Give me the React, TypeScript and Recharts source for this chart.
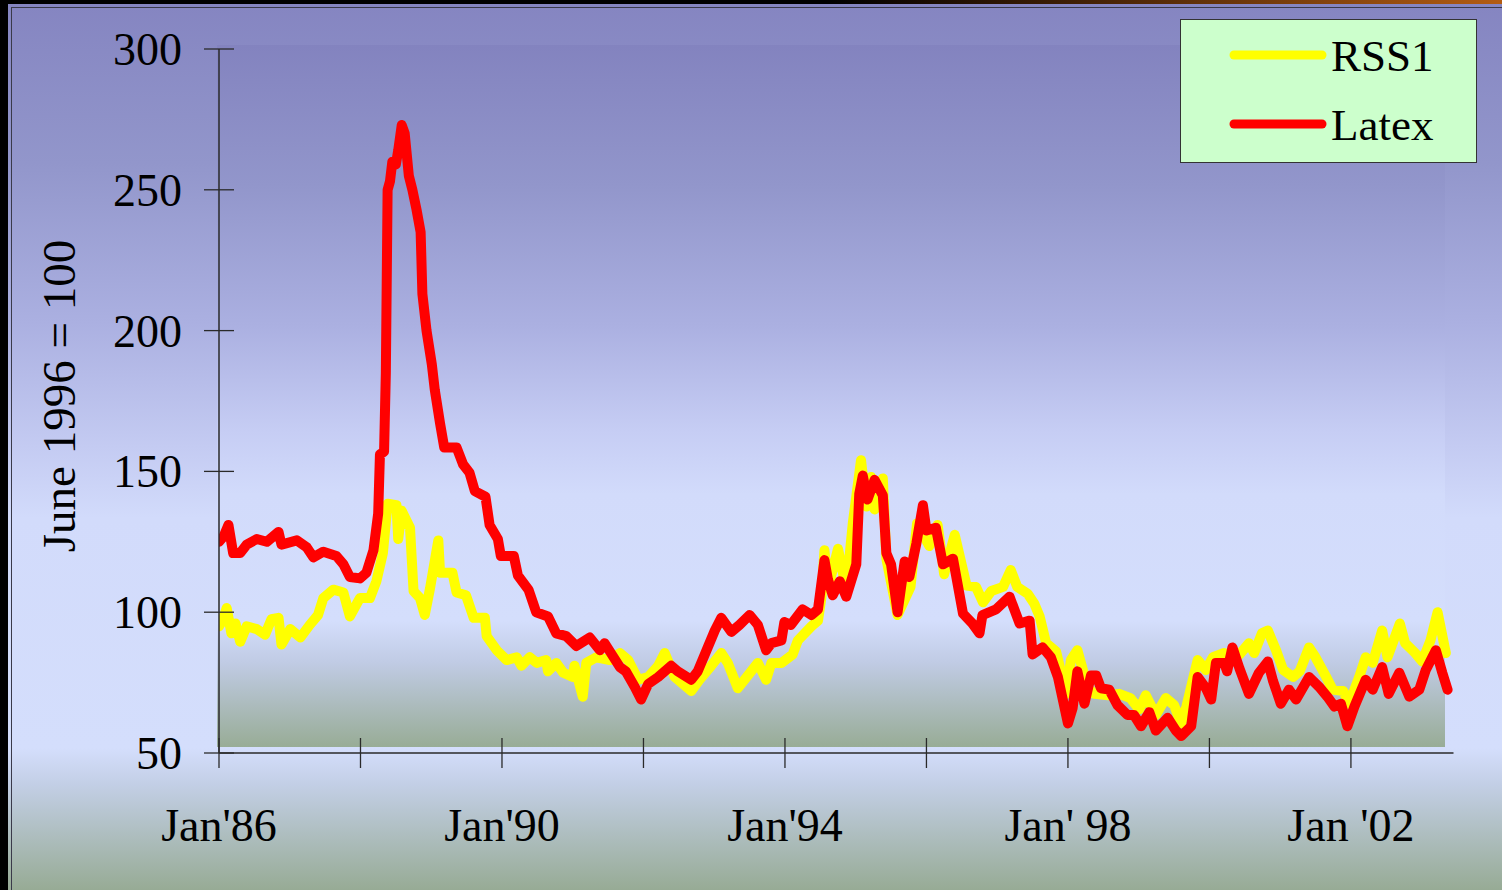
import React from 'react';
import { LineChart, Line, XAxis, YAxis, Legend } from 'recharts';

// months since Jan 1986, index value (June 1996 = 100)
const RSS1: [number, number][] = [
  [0, 95], [0.6, 97], [1.3, 101.5], [2.1, 92.5], [2.8, 96], [3.6, 89.5], [4.7, 95], [6.4, 94], [7.8, 92],
  [8.9, 97.5], [10.1, 98], [10.6, 88.5], [12.1, 94], [13.8, 91], [15.4, 95.5], [16.8, 99], [17.7, 105],
  [19.4, 108], [21.1, 107], [22.2, 98.5], [23.9, 105], [25.6, 105], [26.7, 111], [27.8, 121], [28.6, 138.5],
  [30.1, 138], [30.4, 126], [31.0, 136], [32.4, 130], [33.0, 107.5], [34.1, 105], [34.9, 99], [35.8, 108.5],
  [37.2, 125.5], [37.5, 114], [39.6, 114], [40.3, 107], [41.9, 106], [43.2, 98], [45.1, 98], [45.4, 91.5],
  [47.1, 86.5], [48.8, 83], [50.5, 84], [51.3, 81], [52.7, 84], [53.9, 82], [55.5, 83], [55.8, 79], [57.2, 82],
  [58.4, 78.5], [60.0, 77], [60.3, 81], [61.7, 70], [62.3, 82], [64.0, 84], [66.3, 83], [68.0, 85.5],
  [69.4, 83], [71.1, 76], [72.8, 77], [74.5, 81], [75.6, 85.5], [77.3, 77], [80.1, 72], [81.5, 76], [83.5, 81],
  [85.2, 85.5], [86.3, 82], [88.0, 73], [89.7, 77.5], [91.4, 82], [92.8, 76], [93.7, 82], [95.4, 82],
  [97.3, 85], [98.2, 90], [100.5, 95], [101.6, 97], [102.2, 105.5], [102.7, 122], [103.3, 108.5],
  [105.0, 122.5], [106.4, 108], [107.5, 131.5], [108.9, 154], [109.8, 137.5], [110.6, 148], [111.2, 136.5],
  [112.6, 147.5], [113.2, 119], [115.1, 99], [117.3, 109], [118.4, 131.5], [120.5, 123.5], [121.9, 131],
  [123.0, 113.5], [124.8, 127.5], [126.8, 109.5], [128.4, 109], [129.6, 103.5], [131.0, 107.5], [133.0, 109],
  [134.3, 115], [135.4, 109], [137.2, 106.5], [138.3, 103], [139.2, 98.5], [140.3, 89], [142.0, 86],
  [143.7, 71], [144.5, 83], [145.6, 86.5], [147.4, 73], [148.5, 71], [150.8, 70.5], [152.7, 71], [154.6, 69.5],
  [156.1, 65.5], [157.2, 70.5], [158.9, 63.5], [160.6, 69.5], [162.0, 67], [163.2, 60.5], [164.1, 66.5],
  [165.3, 77], [166.0, 83], [167.4, 79.5], [168.6, 84], [170.5, 85.5], [172.2, 84], [173.1, 85], [174.7, 89],
  [175.6, 85.5], [176.9, 92.5], [177.9, 93.5], [179.3, 86.5], [180.5, 79.5], [182.2, 77], [183.3, 79],
  [184.9, 87.5], [186.0, 84], [187.8, 77], [188.9, 72.5], [190.7, 72], [191.7, 67.5], [193.4, 77], [194.5, 84],
  [195.7, 82], [197.3, 93.5], [198.2, 84], [200.3, 96], [201.2, 89], [202.9, 85.5], [204.1, 82.5],
  [205.5, 90], [206.7, 100], [208.1, 85.5],
];

const LATEX: [number, number][] = [
  [0, 125], [0.8, 127], [1.6, 131], [2.4, 121], [3.6, 121], [4.7, 124], [6.4, 126], [8.1, 125], [10.1, 128.5],
  [10.6, 124], [13.2, 125.5], [14.9, 123], [16.0, 119.5], [17.7, 121.5], [19.9, 120], [21.1, 117], [22.2, 112.5],
  [23.9, 112], [25.0, 114], [26.2, 122], [27.0, 135], [27.3, 156], [28.0, 157], [28.3, 185], [28.6, 250],
  [29.0, 253], [29.4, 260], [30.0, 259], [30.4, 264], [31.0, 273], [31.5, 270], [32.2, 255], [32.8, 250],
  [33.5, 243], [34.2, 235], [34.5, 213], [35.2, 200], [36.1, 188], [36.6, 179], [37.5, 167], [38.2, 158.5],
  [40.3, 158.5], [41.4, 152.5], [42.5, 149.5], [43.4, 143], [45.2, 141], [45.9, 131], [47.3, 126], [47.8, 120],
  [50.0, 120], [50.7, 113], [52.5, 108], [53.8, 100], [55.8, 98.5], [57.2, 92.5], [58.9, 91.5], [60.6, 88],
  [62.9, 91], [64.6, 86.5], [65.4, 89], [68.0, 80.5], [69.0, 79], [70.5, 73.5], [71.6, 69], [72.8, 74.5],
  [74.5, 77], [76.7, 81], [77.8, 79], [80.1, 76], [81.2, 79], [82.7, 86.5], [84.1, 93.5], [85.2, 98],
  [86.9, 93], [88.3, 95.5], [90.0, 99], [91.4, 95.5], [92.8, 86.5], [93.7, 89], [95.4, 90], [95.9, 96.5],
  [97.0, 95.5], [99.0, 101], [100.5, 99], [101.6, 101], [102.7, 118.5], [103.3, 111.5], [104.1, 106],
  [105.3, 111], [106.4, 105.5], [108.1, 117], [108.6, 142], [109.2, 148.5], [110.0, 140], [111.2, 147],
  [112.6, 141.5], [113.2, 121], [114.0, 117], [115.1, 100], [116.3, 118], [117.1, 112.5], [118.3, 124.5],
  [119.4, 138], [120.0, 129], [121.6, 130], [122.8, 117], [124.5, 119], [126.2, 99.5], [127.8, 96],
  [129.0, 92.5], [129.5, 99], [131.8, 101], [134.1, 105.5], [135.8, 96], [137.5, 97], [138.0, 85],
  [139.7, 87.5], [141.1, 84], [142.3, 77], [144.0, 60.5], [144.8, 66], [145.6, 79], [146.8, 67.5],
  [147.9, 77.5], [148.8, 77.5], [149.6, 73], [151.0, 72.5], [152.4, 67], [154.1, 63.5], [155.2, 63.5],
  [156.4, 59.5], [157.8, 64.5], [158.9, 58], [160.9, 62.5], [162.3, 58], [163.2, 56], [164.9, 59.5],
  [166.0, 77], [167.4, 73], [168.3, 69], [169.1, 82], [170.5, 82], [171.0, 79], [171.9, 87.5], [173.1, 80],
  [174.7, 71], [176.4, 78.5], [177.9, 82.5], [178.8, 75.5], [180.1, 67.5], [181.5, 72.5], [182.7, 69],
  [184.9, 77], [186.6, 73.5], [188.0, 70], [189.2, 66.5], [190.3, 67.5], [191.4, 59.5], [192.6, 66.5],
  [194.5, 76], [195.7, 72.5], [197.3, 80.5], [198.4, 71], [200.2, 78.5], [201.9, 70], [203.6, 72.5],
  [204.7, 79.5], [206.4, 86.5], [207.5, 78.5], [208.4, 72.5],
];

const X_TICKS = [0, 24, 48, 72, 96, 120, 144, 168, 192];
const X_LABELS: Record<number, string> = {
  0: "Jan'86", 48: "Jan'90", 96: "Jan'94", 144: "Jan' 98", 192: "Jan '02",
};
const Y_TICKS = [50, 100, 150, 200, 250, 300];
const LEGEND_ORDER = ['RSS1', 'Latex'];

const FONT = '"Liberation Serif", "Times New Roman", serif';
const AXIS = '#2a2a2a';
const TICK_SIZE = 15;

const rssData = RSS1.map(([m, v]) => ({ m, v }));
const latexData = LATEX.map(([m, v]) => ({ m, v }));

// ticks in the original cross the axis, so draw them by hand
const XTick = (props: any) => {
  const { x, y, payload } = props;
  const axisY = y - TICK_SIZE - 10;
  const label = X_LABELS[payload.value] ?? '';
  return (
    <g>
      <line x1={x} x2={x} y1={axisY - TICK_SIZE} y2={axisY + TICK_SIZE} stroke={AXIS} strokeWidth={1.3} />
      {label && (
        <text x={x} y={axisY + 88} textAnchor="middle" fontSize={46} fontFamily={FONT} fill="#000">
          {label}
        </text>
      )}
    </g>
  );
};

const YTick = (props: any) => {
  const { x, y, payload } = props;
  const axisX = x + TICK_SIZE + 22;
  return (
    <g>
      <line x1={axisX - TICK_SIZE} x2={axisX + TICK_SIZE} y1={y} y2={y} stroke={AXIS} strokeWidth={1.3} />
      <text x={x} y={y + 16} textAnchor="end" fontSize={46} fontFamily={FONT} fill="#000">
        {payload.value}
      </text>
    </g>
  );
};

const yLabel = () => (
  <text transform="translate(75, 396) rotate(-90)" textAnchor="middle" fontSize={47} fontFamily={FONT} fill="#000">
    June 1996 = 100
  </text>
);

const LegendBox = (props: any) => {
  const items = [...(props.payload || [])].sort(
    (a: any, b: any) => LEGEND_ORDER.indexOf(a.value) - LEGEND_ORDER.indexOf(b.value)
  );
  return (
    <div style={{ width: 297, height: 144, boxSizing: 'border-box', background: '#ccffcc', border: '1.5px solid #333' }}>
      <svg width={294} height={141} style={{ display: 'block' }}>
        {items.map((it: any, i: number) => (
          <g key={it.value}>
            <line x1={53} x2={141} y1={35 + i * 69} y2={35 + i * 69} stroke={it.color} strokeWidth={9} strokeLinecap="round" />
            <text x={150} y={51 + i * 69} fontSize={45} fontFamily={FONT} fill="#000">{it.value}</text>
          </g>
        ))}
      </svg>
    </div>
  );
};

export default function App() {
  return (
    <div style={{ position: 'absolute', left: 0, top: 0, width: 1502, height: 890, background: '#000', overflow: 'hidden' }}>
      <div style={{
        position: 'absolute', left: 0, top: 0, width: 1502, height: 4,
        background: 'linear-gradient(to right, #000 0%, #000 55%, #3a1c04 70%, #b35c12 100%)',
      }} />
      <div style={{
        position: 'absolute', left: 8, top: 4, right: 0, bottom: 0,
        background: 'linear-gradient(to bottom, #8585c1 0%, #9296cb 18%, #abb0e1 36%, #c4cbf2 50%, #d2dbfb 58%, #d4defc 84%, #c3cfe6 88%, #97ab95 100%)',
      }} />
      <div style={{ position: 'absolute', left: 11, top: 7, right: 0, bottom: 0, borderLeft: '1px solid #3a3a4a', borderTop: '1px solid #3a3a4a' }} />
      {/* plot area panel */}
      <div style={{
        position: 'absolute', left: 217, top: 45, width: 1228, height: 702,
        background: 'linear-gradient(to bottom, #8383bf 0%, #9296cb 20%, #abb0e1 40%, #c6cdf4 55%, #d2dbfb 64%, #d4defc 82%, #c0cbe4 88%, #98ac96 100%)',
      }} />
      <LineChart
        width={1502}
        height={890}
        margin={{ top: 49, right: 48.5, bottom: 77, left: 0 }}
        style={{ position: 'absolute', left: 0, top: 0 }}
      >
        <XAxis
          type="number"
          dataKey="m"
          domain={[0, 209.4]}
          ticks={X_TICKS}
          interval={0}
          height={60}
          tickSize={TICK_SIZE}
          tickMargin={10}
          tickLine={false}
          axisLine={{ stroke: AXIS, strokeWidth: 1.5 }}
          tick={<XTick />}
          allowDataOverflow
        />
        <YAxis
          type="number"
          domain={[50, 300]}
          ticks={Y_TICKS}
          interval={0}
          width={219}
          tickSize={TICK_SIZE}
          tickMargin={22}
          tickLine={false}
          axisLine={{ stroke: AXIS, strokeWidth: 1.5 }}
          tick={<YTick />}
          label={yLabel}
        />
        <Legend
          verticalAlign="middle"
          align="center"
          content={<LegendBox />}
          wrapperStyle={{ position: 'absolute', left: 1180, top: 19, width: 297, height: 144 }}
        />
        <Line
          data={rssData}
          dataKey="v"
          name="RSS1"
          type="linear"
          stroke="#ffff00"
          strokeWidth={10}
          strokeLinejoin="round"
          strokeLinecap="round"
          dot={false}
          activeDot={false}
          isAnimationActive={false}
        />
        <Line
          data={latexData}
          dataKey="v"
          name="Latex"
          type="linear"
          stroke="#ff0000"
          strokeWidth={10}
          strokeLinejoin="round"
          strokeLinecap="round"
          dot={false}
          activeDot={false}
          isAnimationActive={false}
        />
      </LineChart>
    </div>
  );
}
